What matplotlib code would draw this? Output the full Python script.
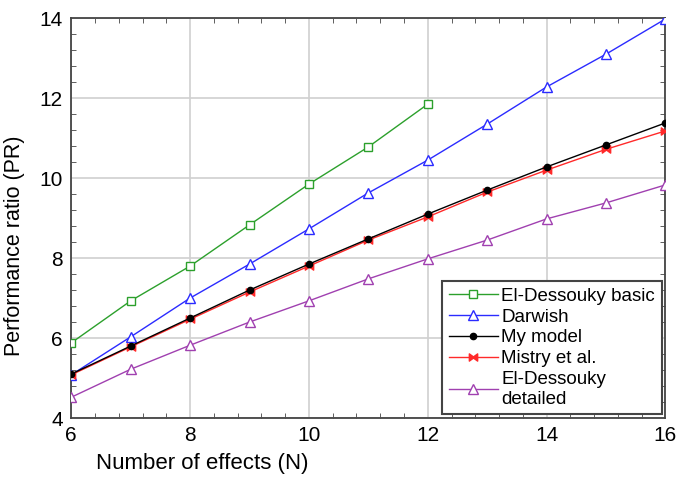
import matplotlib
matplotlib.use("Agg")
import matplotlib.pyplot as plt
from matplotlib.ticker import MultipleLocator, AutoMinorLocator

plt.rcParams['font.family'] = ['Liberation Sans', 'DejaVu Sans']

n_basic = [6, 7, 8, 9, 10, 11, 12]
pr_basic = [5.88, 6.93, 7.80, 8.83, 9.85, 10.78, 11.85]

n_all = [6, 7, 8, 9, 10, 11, 12, 13, 14, 15, 16]
pr_darwish = [5.08, 6.03, 7.00, 7.85, 8.73, 9.63, 10.45, 11.35, 12.28, 13.10, 13.98]
pr_model = [5.10, 5.80, 6.50, 7.20, 7.85, 8.48, 9.10, 9.70, 10.28, 10.83, 11.38]
pr_mistry = [5.08, 5.78, 6.47, 7.15, 7.80, 8.45, 9.03, 9.65, 10.20, 10.72, 11.18]
pr_detailed = [4.52, 5.22, 5.82, 6.40, 6.93, 7.48, 7.98, 8.45, 8.98, 9.38, 9.83]

labels = ["El-Dessouky basic", "Darwish", "My model", "Mistry et al.",
          "El-Dessouky\ndetailed"]

fig = plt.figure(figsize=(6.79, 4.78), dpi=100)
ax = fig.add_axes([0.105, 0.1255, 0.875, 0.8365])

lw = 1.0
ax.plot(n_basic, pr_basic, color='#2ca02c', marker='s', ms=6, mfc='white',
        mec='#2ca02c', lw=lw, label=labels[0], zorder=3)
ax.plot(n_all, pr_darwish, color='#2b2bff', marker='^', ms=7, mfc='white',
        mec='#2b2bff', lw=lw, label=labels[1], zorder=3)
ax.plot(n_all, pr_model, color='black', marker='o', ms=4.5, lw=lw,
        label=labels[2], zorder=4)
ax.plot(n_all, pr_mistry, color='#ff2a2a', marker=r'$\bowtie$', ms=6, lw=lw,
        label=labels[3], zorder=3)
ax.plot(n_all, pr_detailed, color='#a040b0', marker='^', ms=7, mfc='white',
        mec='#a040b0', lw=lw, label=labels[4], zorder=3)

ax.set_xlim(6, 16)
ax.set_ylim(4, 14)
ax.xaxis.set_major_locator(MultipleLocator(2))
ax.yaxis.set_major_locator(MultipleLocator(2))
ax.xaxis.set_minor_locator(AutoMinorLocator(5))
ax.yaxis.set_minor_locator(AutoMinorLocator(5))
ax.tick_params(which='both', direction='in', top=True, right=True,
               color='#444444')
ax.tick_params(which='major', length=0, labelsize=15, pad=6)
ax.tick_params(which='minor', length=3.5)
ax.grid(True, which='major', color='#d0d0d0', lw=1.2)
ax.set_axisbelow(True)
for s in ax.spines.values():
    s.set_color('#444444')
    s.set_linewidth(1.3)

ax.set_xlabel("Number of effects (N)", fontsize=16)
ax.xaxis.set_label_coords(0.22, -0.088)
ax.set_ylabel("Performance ratio (PR)", fontsize=15.5)
ax.yaxis.set_label_coords(-0.078, 0.43)

leg = ax.legend(loc='lower right', fontsize=13.5, frameon=True, fancybox=False,
                borderpad=0.35, labelspacing=0.2, handlelength=2.6,
                handletextpad=0.2, borderaxespad=0.2)
leg.get_frame().set_edgecolor('#444444')
leg.get_frame().set_linewidth(1.5)
leg.get_frame().set_alpha(1)

fig.savefig("out.png", dpi=100)
